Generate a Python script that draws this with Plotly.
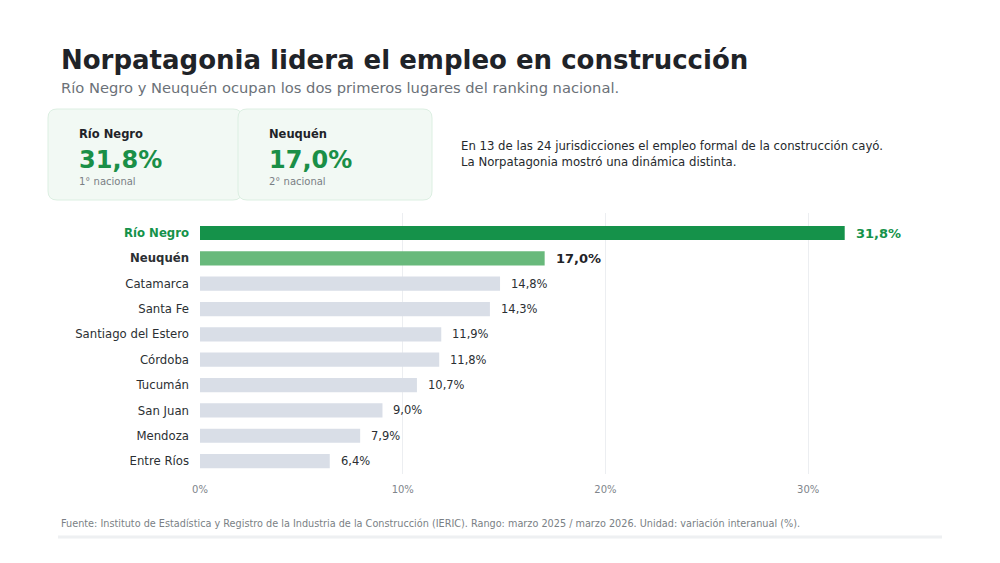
import plotly.graph_objects as go

provincias = ["Río Negro", "Neuquén", "Catamarca", "Santa Fe", "Santiago del Estero",
              "Córdoba", "Tucumán", "San Juan", "Mendoza", "Entre Ríos"]
variacion = [31.8, 17.0, 14.8, 14.3, 11.9, 11.8, 10.7, 9.0, 7.9, 6.4]
tick_vals = [0, 10, 20, 30]
tick_text = ["0%", "10%", "20%", "30%"]

W, H = 1000, 563
FONT = "DejaVu Sans"
GREEN = "#15924a"
LIGHT_GREEN = "#68b97b"
GRAY_BAR = "#d9dee7"
DARK = "#1f2328"

def px(x):
    return x / W

def py(y):
    return 1 - y / H

def fmt(v):
    return f"{v:.1f}".replace(".", ",") + "%"

colors = [GREEN, LIGHT_GREEN] + [GRAY_BAR] * (len(provincias) - 2)

fig = go.Figure()
fig.add_trace(go.Bar(
    y=list(range(len(provincias))), x=variacion, orientation="h",
    marker=dict(color=colors, line=dict(width=0)), width=0.56,
    hoverinfo="skip", showlegend=False,
))

ticklabels = []
for i, p in enumerate(provincias):
    if i == 0:
        ticklabels.append(f"<b><span style='color:{GREEN}'>{p}</span></b>")
    elif i == 1:
        ticklabels.append(f"<b>{p}</b>")
    else:
        ticklabels.append(p)

annotations = []
for i, v in enumerate(variacion):
    if i == 0:
        txt, col, size = f"<b>{fmt(v)}</b>", GREEN, 13
    elif i == 1:
        txt, col, size = f"<b>{fmt(v)}</b>", DARK, 13
    else:
        txt, col, size = fmt(v), "#2b2f33", 11.5
    annotations.append(dict(x=v, y=i, xref="x", yref="y", text=txt, showarrow=False,
                            xanchor="left", yanchor="middle", xshift=9,
                            font=dict(family=FONT, size=size, color=col)))

def paper_text(x, y, text, size, color, bold=False, anchor="left"):
    t = f"<b>{text}</b>" if bold else text
    annotations.append(dict(x=px(x), y=py(y), xref="paper", yref="paper", text=t,
                            showarrow=False, xanchor=anchor, yanchor="middle",
                            font=dict(family=FONT, size=size, color=color)))

paper_text(59, 60, "Norpatagonia lidera el empleo en construcción", 26, DARK, bold=True)
paper_text(59, 87, "Río Negro y Neuquén ocupan los dos primeros lugares del ranking nacional.", 14.7, "#6b7178")

cards = [
    (48, "Río Negro", fmt(variacion[0]), "1° nacional"),
    (238, "Neuquén", fmt(variacion[1]), "2° nacional"),
]

def rounded_rect(x0, y0, x1, y1, r):
    X0, X1 = px(x0), px(x1)
    Y0, Y1 = py(y0), py(y1)
    rx, ry = r / W, r / H
    return (f"M {X0+rx},{Y0} L {X1-rx},{Y0} Q {X1},{Y0} {X1},{Y0-ry} "
            f"L {X1},{Y1+ry} Q {X1},{Y1} {X1-rx},{Y1} L {X0+rx},{Y1} "
            f"Q {X0},{Y1} {X0},{Y1+ry} L {X0},{Y0-ry} Q {X0},{Y0} {X0+rx},{Y0} Z")

shapes = []
for cx, name, val, rank in cards:
    shapes.append(dict(type="path", xref="paper", yref="paper",
                       path=rounded_rect(cx, 109, cx + 194, 200, 9),
                       fillcolor="#f2f9f4", line=dict(color="#dcefe2", width=1), layer="below"))
    paper_text(cx + 29, 134, name, 11.5, DARK, bold=True)
    paper_text(cx + 29, 160, val, 24, "#1a8f47", bold=True)
    paper_text(cx + 29, 181, rank, 10, "#7a7f85")

paper_text(459, 146, "En 13 de las 24 jurisdicciones el empleo formal de la construcción cayó.", 11.7, "#25292d")
paper_text(459, 162, "La Norpatagonia mostró una dinámica distinta.", 11.7, "#25292d")

paper_text(59, 523, "Fuente: Instituto de Estadística y Registro de la Industria de la Construcción (IERIC). "
                    "Rango: marzo 2025 / marzo 2026. Unidad: variación interanual (%).", 9.7, "#7a7f85")

shapes.append(dict(type="line", xref="paper", yref="paper", x0=px(58), x1=px(942),
                   y0=py(537), y1=py(537), line=dict(color="#eef0f2", width=3)))

fig.update_layout(
    width=W, height=H, autosize=False,
    margin=dict(l=0, r=0, t=0, b=0, pad=0),
    paper_bgcolor="white", plot_bgcolor="white",
    font=dict(family=FONT),
    xaxis=dict(domain=[px(200), px(940)], range=[0, 36.5], tickvals=tick_vals, ticktext=tick_text,
               showgrid=True, gridcolor="#eceef1", gridwidth=1, zeroline=False,
               showline=False, ticks="", tickfont=dict(family=FONT, size=10, color="#80858b"),
               ticklabelstandoff=8, fixedrange=True, automargin=False),
    yaxis=dict(domain=[py(474), py(213)], range=[9.51, -0.79],
               tickvals=list(range(len(provincias))), ticktext=ticklabels,
               showgrid=False, zeroline=False, showline=False, ticks="",
               tickfont=dict(family=FONT, size=11.7, color="#2b2f33"),
               ticklabelstandoff=10, fixedrange=True, automargin=False),
    annotations=annotations,
    shapes=shapes,
)

fig.write_html("out.html", config={"displayModeBar": False})
